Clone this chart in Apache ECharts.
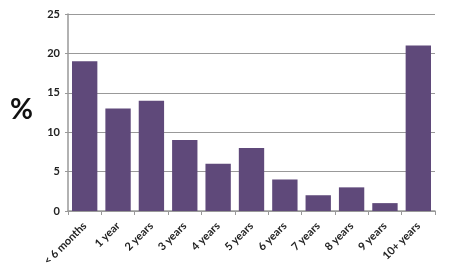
<!DOCTYPE html>
<html><head><meta charset="utf-8">
<script src="https://cdn.jsdelivr.net/npm/echarts@6/dist/echarts.min.js"></script>
<style>html,body{margin:0;padding:0;background:#fff}#c{width:450px;height:271px}</style>
</head><body><div id="c"></div>
<script>
const categories = ['< 6 months','1 year','2 years','3 years','4 years','5 years','6 years','7 years','8 years','9 years','10+ years'];
const values = [19,13,14,9,6,8,4,2,3,1,21];
const yTicks = [0,5,10,15,20,25];

const chart = echarts.init(document.getElementById('c'), null, {renderer:'canvas'});
chart.setOption({
  animation:false,
  grid:{left:68,right:15,top:14,bottom:60,containLabel:false},
  graphic:[{type:'text',left:10,top:96,style:{text:'%',font:'bold 28px Lato, sans-serif',fill:'#111'}}],
  xAxis:{type:'category',data:categories,
    axisLine:{lineStyle:{color:'#999',width:1.5}},
    axisTick:{show:true,length:4,alignWithLabel:false,lineStyle:{color:'#999'}},
    axisLabel:{rotate:45,interval:0,fontSize:11,fontWeight:'bold',color:'#222',fontFamily:'Lato, sans-serif',margin:13}},
  yAxis:{type:'value',min:0,max:25,interval:5,
    axisLine:{show:true,lineStyle:{color:'#999',width:1.5}},
    axisTick:{show:true,length:3,lineStyle:{color:'#999'}},
    splitLine:{lineStyle:{color:'#999',width:1.2}},
    axisLabel:{fontSize:11,fontWeight:'bold',color:'#222',fontFamily:'Lato, sans-serif',margin:8,
      formatter:v=>yTicks.includes(v)?String(v):''}},
  series:[{type:'bar',data:values,barCategoryGap:'24%',itemStyle:{color:'#5f497a'}}]
});
</script></body></html>
